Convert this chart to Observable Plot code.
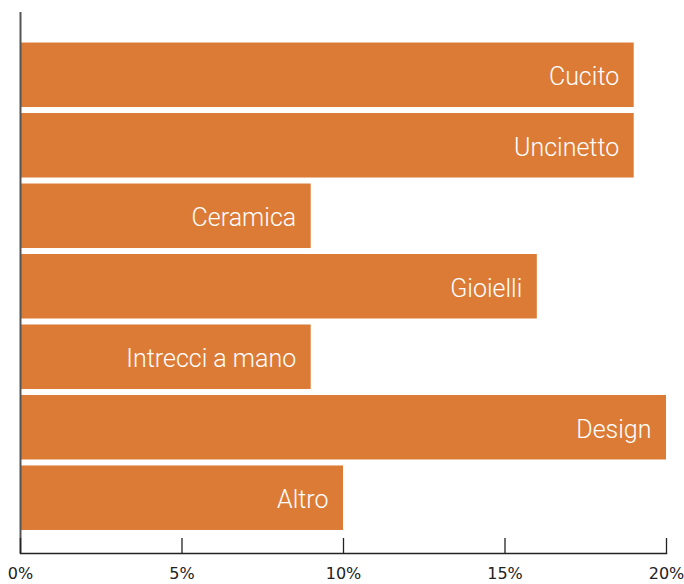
<!DOCTYPE html>
<html><head><meta charset="utf-8">
<script src="https://cdn.jsdelivr.net/npm/d3@7"></script>
<script src="https://cdn.jsdelivr.net/npm/@observablehq/plot@0.6"></script>
<style>body{margin:0;background:#fff}</style>
</head><body><div id="chart"></div>
<script>
const categories = ["Cucito","Uncinetto","Ceramica","Gioielli","Intrecci a mano","Design","Altro"];
const values = [19, 19, 9, 16, 9, 20, 10];
const tickValues = [0, 5, 10, 15, 20];
const data = categories.map((c, i) => ({cat: c, val: values[i]}));
const chart = Plot.plot({
  width: 684, height: 584,
  marginLeft: 20, marginRight: 18, marginTop: 12, marginBottom: 31,
  style: {fontFamily: "DejaVu Sans", background: "#fff"},
  x: {domain: [0, 20], ticks: tickValues, tickFormat: d => d + "%"},
  y: {domain: categories, paddingInner: 0.085, paddingOuter: 0.38, align: 0.57, round: false, axis: null},
  marks: [
    Plot.barX(data, {x: "val", y: "cat", fill: "#DC7B36"}),
    Plot.text(data, {x: "val", y: "cat", text: "cat", textAnchor: "end", dx: -15, dy: 2, fill: "white",
      fontSize: 25, fontWeight: 300, fontFamily: "Roboto"}),
    Plot.ruleX([0], {stroke: "#555", strokeWidth: 2}),
    Plot.ruleX(tickValues, {x: d => d, insetTop: 526, stroke: "#222", strokeWidth: 1.3}),
    Plot.frame({anchor: "bottom", stroke: "#222", strokeWidth: 1.5}),
    Plot.axisX({ticks: tickValues, tickFormat: d => d + "%", tickSize: 0, tickPadding: 14,
      fontSize: 16, fill: "#222", label: null})
  ]
});
document.getElementById("chart").append(chart);
</script></body></html>
